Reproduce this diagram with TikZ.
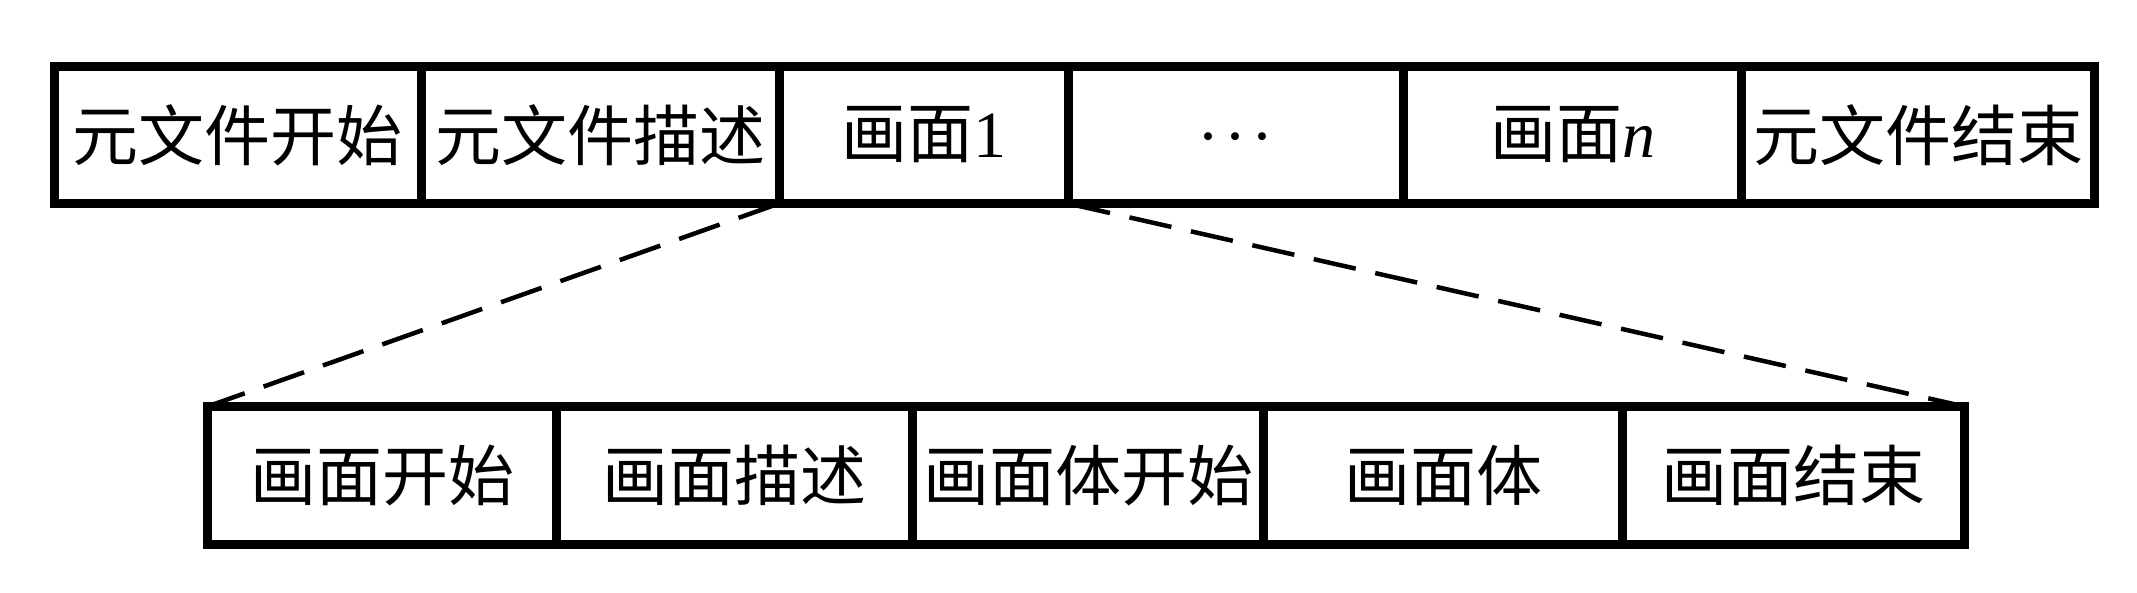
\documentclass[tikz,border=0pt]{standalone}
\usepackage{fontspec}
\setmainfont{Liberation Serif}
\newfontfamily\cjk{Noto Sans CJK SC}
\newcommand{\lbl}[1]{\makebox[0pt][c]{#1}}
\newcommand{\mydots}{{\cjk\vphantom{画}}\textperiodcentered\kern5pt\textperiodcentered\kern5pt\textperiodcentered}
\begin{document}
\begin{tikzpicture}[x=1pt,y=-1pt,
  cell/.style={draw, line width=9pt, rectangle, outer sep=0pt, inner sep=0pt,
    minimum height=137pt, font=\fontsize{66}{78}\selectfont, anchor=center},
  zoomline/.style={line width=4.5pt, dash pattern=on 43pt off 20pt}]
\useasboundingbox (0,0) rectangle (2137,592);
% top row
\node[cell, minimum width=367pt]   (t1) at (237.5,135)   {\lbl{\cjk 元文件开始}};
\node[cell, minimum width=358pt]   (t2) at (600,135)     {\lbl{\cjk 元文件描述}};
\node[cell, minimum width=289pt]   (t3) at (923.5,135)   {\lbl{{\cjk 画面}1}};
\node[cell, minimum width=335.5pt] (t4) at (1235.75,135) {\lbl{\mydots}};
\node[cell, minimum width=338pt]   (t5) at (1572.5,135)  {\lbl{{\cjk 画面}\textit{n}}};
\node[cell, minimum width=353pt]   (t6) at (1918,135)    {\lbl{\cjk 元文件结束}};
% bottom row
\node[cell, minimum width=349pt, minimum height=138pt] (b1) at (382,475.5)   {\lbl{\cjk 画面开始}};
\node[cell, minimum width=356pt, minimum height=138pt] (b2) at (734.5,475.5) {\lbl{\cjk 画面描述}};
\node[cell, minimum width=351pt, minimum height=138pt] (b3) at (1088,475.5)  {\lbl{\cjk 画面体开始}};
\node[cell, minimum width=359pt, minimum height=138pt] (b4) at (1443,475.5)  {\lbl{\cjk 画面体}};
\node[cell, minimum width=342pt, minimum height=138pt] (b5) at (1793.5,475.5) {\lbl{\cjk 画面结束}};
% zoom lines
\draw[zoomline] (t3.south west) -- (b1.north west);
\draw[zoomline] (t3.south east) -- (b5.north east);
\end{tikzpicture}
\end{document}
